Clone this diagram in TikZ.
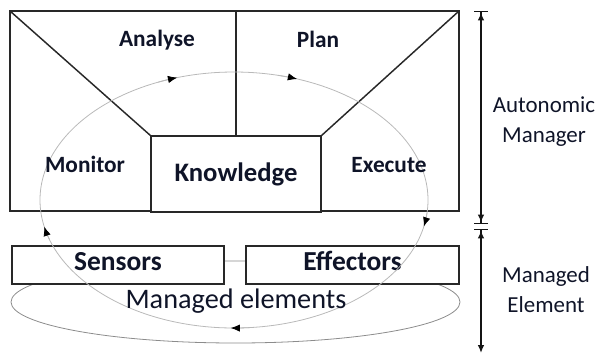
\documentclass[tikz,border=0pt]{standalone}
\usepackage{fontspec}
\setmainfont{Carlito}
\usetikzlibrary{arrows.meta}

\begin{document}
\begin{tikzpicture}[x=0.75pt,y=0.75pt,yscale=-1,xscale=1,
    boxline/.style={draw={rgb, 255:red, 40; green, 40; blue, 40 }, line width=1.1pt, fill=white, inner sep=0pt, outer sep=0pt},
    mapeloop/.style={draw={rgb, 255:red, 185; green, 185; blue, 185 }, line width=0.6pt},
    elemloop/.style={draw={rgb, 255:red, 140; green, 140; blue, 140 }, line width=0.6pt},
    dimline/.style={draw={rgb, 255:red, 20; green, 20; blue, 20 }, line width=1.1pt},
    phase/.style={text={rgb, 255:red, 15; green, 20; blue, 40 }, font=\fontsize{17.5}{21}\selectfont\bfseries, anchor=base, inner sep=0pt},
    sidelabel/.style={text={rgb, 255:red, 15; green, 20; blue, 40 }, font=\fontsize{17.2}{22.5}\selectfont, align=center, inner sep=0pt}
  ]
        \useasboundingbox (0,0) rectangle (599,354);

        %Shape: Ellipse (managed elements loop)
        \draw [elemloop] (235.5,302) ellipse [x radius=224.5, y radius=41];

        %Shape: Rectangle (sensors)
        \node [boxline, minimum width=159pt, minimum height=28.5pt, text={rgb, 255:red, 15; green, 20; blue, 40 }, font=\fontsize{20.6}{24}\selectfont\bfseries, text height=13.6pt, text depth=5.2pt] (sensors) at (118,265) {Sensors};
        %Shape: Rectangle (effectors)
        \node [boxline, minimum width=159.75pt, minimum height=28.5pt, text={rgb, 255:red, 15; green, 20; blue, 40 }, font=\fontsize{20.6}{24}\selectfont\bfseries, text height=13.6pt, text depth=5.2pt] (effectors) at (352.5,265) {Effectors};

        %Shape: Rectangle (autonomic manager)
        \node [boxline, fill=none, minimum width=336.75pt, minimum height=150pt] (manager) at (234.5,111) {};
        %Shape: Rectangle (knowledge)
        \node [boxline, minimum width=127.5pt, minimum height=57pt, text={rgb, 255:red, 15; green, 20; blue, 40 }, font=\fontsize{20}{24}\selectfont\bfseries, text height=14pt, text depth=2.4pt] (knowledge) at (236,174) {Knowledge};

        %Straight Lines
        \draw [dimline, draw={rgb, 255:red, 40; green, 40; blue, 40 }] (manager.north west) -- (knowledge.north west) ;
        \draw [dimline, draw={rgb, 255:red, 40; green, 40; blue, 40 }] (manager.north east) -- (knowledge.north east) ;
        \draw [dimline, draw={rgb, 255:red, 40; green, 40; blue, 40 }] (knowledge.north |- manager.north) -- (knowledge.north) ;

        %Shape: Ellipse (MAPE loop)
        \coordinate (loopc) at (234,200);
        \draw [mapeloop] (loopc) ellipse [x radius=194, y radius=128];
        \foreach \a in {12,91,168,253,289}
          \draw [mapeloop, -{Latex[length=7pt, width=5.5pt, color=black]}] (loopc) ++(\a-6:194 and 128) arc [start angle=\a-6, end angle=\a, x radius=194, y radius=128];

        % Text Node
        \node [phase] (analyse) at (157,46) {Analyse};
        % Text Node
        \node [phase] (plan) at (318,47) {Plan};
        % Text Node
        \node [phase] (monitor) at (85,172) {Monitor};
        % Text Node
        \node [phase] (execute) at (389,172) {Execute};
        % Text Node
        \node [text={rgb, 255:red, 15; green, 20; blue, 40 }, font=\fontsize{21.2}{25}\selectfont, anchor=base, inner sep=0pt] (elements) at (236,308) {Managed elements};

        %Dimension Lines
        \coordinate (amtop) at (481,11);
        \coordinate (ambot) at (481,224);
        \coordinate (metop) at (481,229);
        \coordinate (mebot) at (481,353);
        \draw [dimline, {Bar[width=10.5pt]Latex[length=6pt, width=5pt]}-{Latex[length=6pt, width=5pt]Bar[width=10.5pt]}] (amtop) -- (ambot) ;
        \draw [dimline, {Bar[width=10.5pt]Latex[length=6pt, width=5pt]}-{Latex[length=6pt, width=5pt]}] (metop) -- (mebot) ;

        % Text Node
        \node [sidelabel] (amlabel) at (544,122) {Autonomic\\Manager};
        % Text Node
        \node [sidelabel] (melabel) at (546,290) {Managed\\Element};

\end{tikzpicture}
\end{document}
